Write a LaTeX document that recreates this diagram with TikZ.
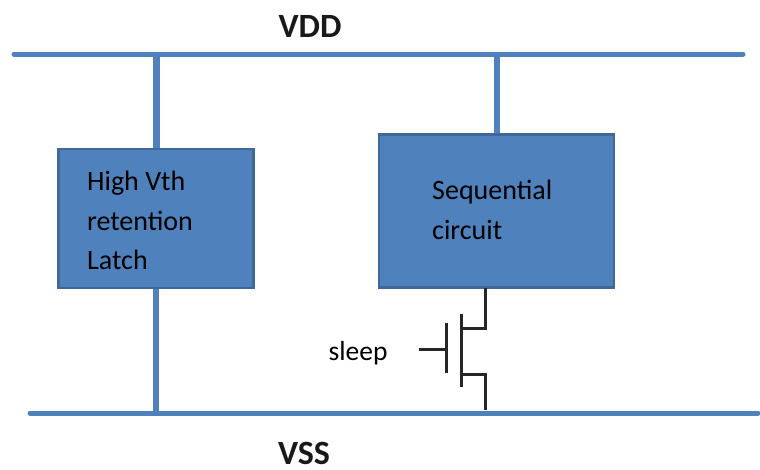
\documentclass[tikz,border=0pt]{standalone}
\usepackage{fontspec}
\setmainfont{Carlito}
\usepackage{tikz}
\usetikzlibrary{positioning}
\definecolor{railblue}{HTML}{4F81BD}
\definecolor{edgeblue}{HTML}{3F6797}
\tikzset{
  every node/.style={anchor=center},
  rail/.style={line width=5pt, draw=railblue, line cap=round},
  stub/.style={line width=6.5pt, draw=railblue},
  block/.style={draw=edgeblue, line width=2.5pt, fill=railblue, inner sep=0pt, text=black},
  blocktext/.style={anchor=west, inner sep=0pt, font=\fontsize{28}{32}\selectfont},
  railtext/.style={inner sep=0pt, font=\bfseries\fontsize{34}{38}\selectfont, text=black!90},
  fet/.style={line width=3pt, draw=black!85},
  fetgate/.style={line width=3pt, draw=black!85}
}
\begin{document}
\begin{tikzpicture}[x=1pt, y=-1pt]
\useasboundingbox (0,0) rectangle (760,469);

\coordinate (vddl) at (14,54);
\coordinate (vddr) at (743,54);
\coordinate (vssl) at (30,413);
\coordinate (vssr) at (758,413);

% Rail stubs
\coordinate (tap1) at (156.5,54);
\coordinate (tap2) at (156,413);
\coordinate (tap3) at (497,54);
\coordinate (latchtop) at (156.5,148);
\coordinate (latchbot) at (156,287);
\coordinate (seqtop) at (497,134);
\draw[stub] (tap1) -- (latchtop);
\draw[stub] (latchbot) -- (tap2);
\draw[stub] (tap3) -- (seqtop);

\draw[rail] (vddl) -- (vddr);
\draw[rail] (vssl) -- (vssr);

\node[railtext] (vdd) at (310,26) {VDD};
\node[railtext] (vss) at (304,453) {VSS};

\node[block, minimum width=195pt, minimum height=139pt] (latch) at (156,218.5) {};
\node[block, minimum width=235pt, minimum height=153pt] (seq) at (496.5,211) {};

\node[blocktext] (latch1) at (87,183) {High Vth};
\node[blocktext] (latch2) at (87,221) {retention};
\node[blocktext] (latch3) at (87,260) {Latch};
\node[blocktext] (seq1) at (432,192) {Sequential};
\node[blocktext] (seq2) at (432,230) {circuit};
\node[inner sep=0pt, font=\fontsize{27.5}{32}\selectfont] (sleep) at (358,353) {sleep};

% Sleep transistor
\coordinate (d0) at (485,288);
\coordinate (d1) at (485,328);
\coordinate (d2) at (461,328);
\coordinate (s2) at (461,374);
\coordinate (s1) at (485,374);
\coordinate (s0) at (485,410);
\coordinate (ct) at (461,314);
\coordinate (cb) at (461,387);
\coordinate (g0) at (419,349);
\coordinate (g1) at (446,349);
\coordinate (gt) at (446,323);
\coordinate (gb) at (446,373);
\draw[fet] (d0) -- (d1) -- (d2);
\draw[fet] (s2) -- (s1) -- (s0);
\draw[fet] (ct) -- (cb);
\draw[fetgate] (g0) -- (g1);
\draw[fetgate] (gt) -- (gb);
\end{tikzpicture}
\end{document}
